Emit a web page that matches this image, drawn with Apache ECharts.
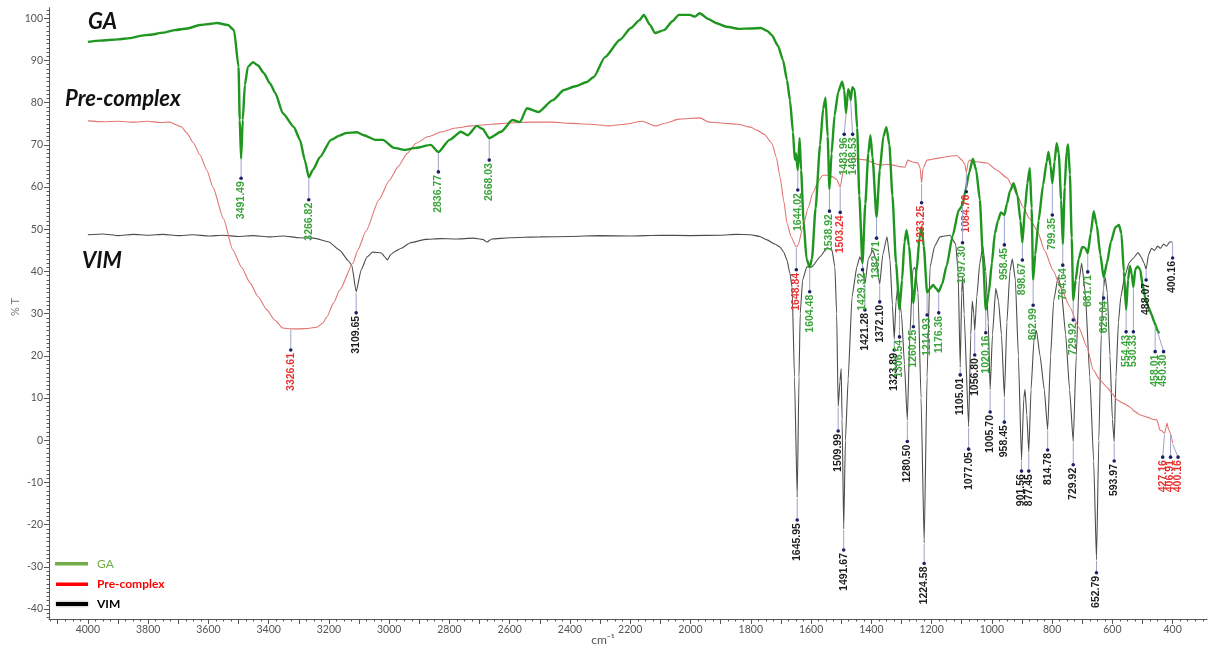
<!DOCTYPE html>
<html><head><meta charset="utf-8">
<script src="https://cdn.jsdelivr.net/npm/echarts@6/dist/echarts.min.js"></script>
<style>html,body{margin:0;padding:0;background:#fff}#c{width:1210px;height:650px}</style>
</head><body><div id="c"></div>
<script>
// ---------- data: [wavenumber cm-1, %T] ----------
const gaData = [
[4000,94.4],[3960,94.7],[3900,95.0],[3861,95.3],[3820,95.9],[3794,96.1],[3750,96.6],[3711,97.2],[3670,97.6],[3628,98.4],[3590,98.7],[3572,98.9],[3535,98.4],[3515,97.2],[3500,88.5],[3496,75.9],[3491.49,66.7],[3486,75.9],[3479,84.2],[3469,88.5],[3452,89.6],[3435,88.8],[3416,87.0],[3395,84.5],[3378,82.3],[3353,77.5],[3316,74.2],[3296,71.2],[3280,66.4],[3266.82,62.3],[3253,64.1],[3230,67.1],[3193,71.2],[3165,72.2],[3144,72.8],[3107,73.0],[3084,72.3],[3046,71.2],[3021,71.2],[2984,69.3],[2948,68.8],[2911,69.3],[2862,70.0],[2836.77,68.3],[2800,71.2],[2762,73.1],[2739,72.3],[2709,74.5],[2690,73.8],[2668.03,71.6],[2629,73.1],[2591,75.9],[2566,75.4],[2543,78.7],[2505,77.8],[2457,80.6],[2420,83.0],[2382,83.9],[2344,84.9],[2321,86.1],[2284,90.8],[2234,94.9],[2198,97.7],[2170,99.5],[2155,100.8],[2135,98.5],[2118,96.5],[2088,97.2],[2060,99.3],[2039,100.8],[2002,100.8],[1985,100.4],[1970,101.2],[1940,99.8],[1916,98.9],[1880,98.0],[1841,97.5],[1800,97.6],[1766,97.7],[1745,97.0],[1730,96.0],[1710,93.5],[1693,90.1],[1680,85.4],[1670,80.6],[1660,73.0],[1654,66.5],[1650,68.0],[1644.02,64.0],[1638,71.6],[1633,64.0],[1625,52.0],[1615,43.0],[1604.48,41.0],[1597,43.0],[1585,55.0],[1570,70.0],[1560,78.5],[1552,81.2],[1545,72.0],[1538.92,59.5],[1532,68.0],[1522,77.0],[1510,82.5],[1497,85.0],[1490,83.0],[1483.96,77.5],[1477,83.2],[1472,82.5],[1468.53,80.6],[1463,83.7],[1455,83.0],[1447,74.0],[1440,58.0],[1429.32,42.0],[1420,56.0],[1410,68.0],[1403,72.3],[1396,67.0],[1382.71,52.9],[1372,64.0],[1360,72.0],[1350,74.2],[1340,70.0],[1330,58.0],[1318,42.0],[1306.54,31.0],[1298,38.0],[1290,47.0],[1283,49.8],[1275,46.0],[1260.25,32.5],[1250,40.0],[1240,48.0],[1233,50.5],[1226,46.0],[1214.93,35.0],[1205,36.0],[1195,36.8],[1185,36.0],[1176.36,35.2],[1165,37.0],[1150,41.4],[1130,48.5],[1110,54.5],[1097.3,55.7],[1089,58.8],[1075,63.5],[1063,66.7],[1052,64.0],[1040,57.0],[1030,44.0],[1020.16,30.9],[1010,35.0],[1000,42.0],[990,49.0],[980,52.0],[970,54.0],[958.45,53.4],[950,56.0],[940,59.0],[928,60.9],[915,58.0],[905,52.0],[898.67,46.8],[890,55.0],[882,61.0],[874,64.5],[868,55.0],[862.99,38.0],[856,44.0],[845,52.0],[830,60.5],[818,66.0],[812,68.3],[805,65.0],[799.35,60.9],[792,66.0],[785,70.4],[778,68.0],[770,57.0],[764.64,46.5],[758,60.0],[752,68.5],[747,70.1],[741,63.0],[735,48.0],[729.92,33.2],[722,38.0],[712,43.0],[700,45.8],[690,45.6],[681.71,44.3],[672,49.0],[662,54.3],[652,51.0],[640,44.0],[629.04,38.6],[618,42.0],[605,47.0],[590,50.5],[578,51.0],[570,49.0],[562,40.0],[554.43,30.9],[548,38.0],[542,41.3],[536,39.5],[530.33,36.3],[524,40.5],[516,41.2],[508,40.5],[500,37.0],[490,33.5],[480,31.5],[470,29.8],[462,28.2],[458.01,27.5],[450.3,26.0],[445,25.3]
];
const preData = [
[4000,75.7],[3950,75.5],[3900,75.6],[3850,75.4],[3800,75.6],[3760,75.3],[3728,75.4],[3705,74.7],[3690,74.3],[3671,72.8],[3650,70.5],[3628,67.6],[3605,64.0],[3585,60.0],[3550,52.5],[3519,45.1],[3490,41.0],[3462,37.3],[3435,34.0],[3406,30.9],[3380,28.5],[3353,26.6],[3326.61,26.4],[3296,26.4],[3270,26.5],[3240,26.8],[3220,27.8],[3207,29.2],[3185,32.5],[3164,35.6],[3120,42.0],[3104,45.1],[3077,49.6],[3034,57.0],[3000,61.5],[2971,64.8],[2940,68.0],[2911,70.4],[2870,72.0],[2825,73.1],[2780,74.0],[2726,74.5],[2660,74.9],[2603,75.2],[2530,75.4],[2457,75.4],[2400,75.1],[2334,74.9],[2271,74.5],[2218,74.9],[2161,75.6],[2118,74.5],[2080,75.2],[2039,76.1],[1969,76.4],[1939,75.4],[1900,75.2],[1843,74.9],[1800,74.2],[1780,73.5],[1755,72.5],[1730,70.4],[1715,67.0],[1703,62.4],[1690,56.5],[1680,51.5],[1665,48.0],[1648.84,45.8],[1643,46.3],[1627,50.5],[1610,55.0],[1594,58.6],[1575,61.5],[1561,62.8],[1545,62.8],[1527,62.4],[1515,61.8],[1503.24,60.0],[1494,63.5],[1481,66.4],[1461,66.8],[1440,66.6],[1415,66.4],[1390,65.6],[1371,65.2],[1350,65.4],[1328,65.2],[1300,64.8],[1288,64.7],[1279,66.4],[1260,65.9],[1245,65.7],[1238,64.5],[1233.25,61.0],[1228,64.5],[1215,66.4],[1182,66.8],[1150,67.2],[1116,67.5],[1099,66.4],[1090,65.5],[1084.76,63.5],[1078,66.0],[1073,66.4],[1050,66.0],[1016,65.7],[983,64.0],[950,62.2],[930,60.0],[915,58.0],[897,55.3],[875,52.5],[850,49.8],[825,45.0],[797,40.3],[770,36.0],[741,31.6],[712,26.8],[684,22.1],[664,16.7],[641,14.3],[618,12.6],[600,11.0],[585,9.6],[565,8.8],[542,7.9],[525,6.8],[508,6.0],[485,5.5],[465,5.0],[452,4.8],[442,2.4],[435,2.2],[427.16,1.6],[422,3.0],[419,4.1],[413,2.5],[406.91,1.6],[403,0.5],[400.16,-0.6]
];
const vimData = [
[4000,48.7],[3950,48.9],[3900,48.5],[3850,48.8],[3800,48.6],[3750,48.8],[3700,48.5],[3650,48.7],[3600,48.4],[3550,48.6],[3500,48.3],[3450,48.5],[3400,48.2],[3350,48.4],[3300,48.0],[3250,47.9],[3200,47.0],[3164,45.0],[3135,42.5],[3124,41.4],[3109.65,35.2],[3093,40.4],[3074,43.4],[3055,44.6],[3026,44.4],[3015,43.5],[3006,42.7],[2995,44.0],[2980,44.8],[2960,45.5],[2930,46.8],[2880,47.6],[2830,47.8],[2780,47.7],[2720,47.9],[2690,47.6],[2675,47.0],[2660,47.7],[2600,48.0],[2500,48.2],[2400,48.3],[2300,48.5],[2200,48.4],[2100,48.6],[2000,48.5],[1900,48.6],[1850,48.8],[1800,48.7],[1770,48.3],[1746,47.5],[1720,46.5],[1703,45.8],[1690,44.5],[1680,42.7],[1670,39.5],[1663,36.3],[1655,15.0],[1645.95,-13.5],[1640,15.0],[1636,30.0],[1628,38.0],[1614,41.1],[1597,41.1],[1570,43.5],[1547,45.6],[1531,45.2],[1521,41.1],[1515,30.0],[1509.99,8.0],[1504,14.0],[1500,17.0],[1497,5.0],[1491.67,-21.0],[1486,0.0],[1477,14.3],[1464,34.0],[1448,41.1],[1438,43.5],[1431,42.3],[1421.28,37.0],[1410,43.0],[1395,45.0],[1385,43.0],[1372.1,37.0],[1362,44.0],[1348,48.2],[1338,42.7],[1330,32.0],[1323.89,24.0],[1318,33.0],[1312,36.3],[1300,30.0],[1290,18.0],[1280.5,4.8],[1272,25.0],[1262,40.5],[1255,41.0],[1245,35.0],[1235,10.0],[1224.58,-24.3],[1215,15.0],[1205,41.1],[1190,46.0],[1172,48.2],[1139,48.6],[1120,46.5],[1112,40.0],[1105.01,17.3],[1100,35.0],[1097,38.8],[1092,30.0],[1077.05,3.2],[1070,25.0],[1065,33.0],[1060,30.0],[1056.8,26.0],[1050,34.0],[1040,42.0],[1030,45.9],[1020,40.0],[1012,28.0],[1005.7,12.0],[998,25.0],[987,36.0],[978,33.0],[968,25.0],[958.45,10.3],[950,28.0],[940,40.0],[932,43.0],[922,38.0],[912,20.0],[901.56,-4.7],[894,10.0],[890,12.0],[884,6.0],[877.45,-2.8],[870,12.0],[860,24.0],[852,26.0],[840,20.0],[826,12.0],[814.78,2.5],[805,20.0],[795,33.0],[780,38.7],[770,36.0],[755,25.0],[742,12.0],[729.92,-0.4],[720,20.0],[710,38.0],[702,42.0],[690,35.0],[675,15.0],[662,-5.0],[652.79,-28.3],[645,0.0],[637,25.0],[630,36.0],[624,38.7],[617,35.0],[608,20.0],[600,5.0],[593.97,-0.4],[588,15.0],[580,28.0],[572,34.0],[560,38.5],[545,42.0],[530,43.2],[515,44.5],[505,43.5],[495,42.0],[488.07,40.5],[480,44.0],[470,45.5],[460,45.0],[450,46.0],[440,45.5],[430,46.5],[420,46.0],[410,47.0],[400.16,47.0]
];
// peak annotations: [wavenumber, %T of label dot, optional wavenumber where label sits]
const gaPeaks = [[3491.49,62.1],[3266.82,57.0],[2836.77,63.6],[2668.03,66.4],[1644.02,59.3],[1604.48,35.2],[1538.92,54.3],[1483.96,72.5,1490],[1468.53,72.5,1462],[1429.32,40.4],[1382.71,47.9],[1306.54,24.5],[1260.25,26.9],[1214.93,29.7],[1176.36,30.2],[1097.30,46.8],[1020.16,25.5],[958.45,46.3],[898.67,42.7],[862.99,32.0],[799.35,53.4],[764.64,41.5],[729.92,28.5],[681.71,39.9],[629.04,33.7],[554.43,25.7],[530.33,25.7],[458.01,21.0,458],[450.30,21.0,430]];
const prePeaks = [[3326.61,21.4],[1648.84,40.4],[1503.24,54.0],[1233.25,56.3],[1084.76,58.9],[427.16,-4.0,433],[406.91,-4.0,407],[400.16,-4.0,382]];
const vimPeaks = [[3109.65,30.2],[1645.95,-18.9],[1509.99,2.2],[1491.67,-26.0],[1421.28,30.9],[1372.10,32.8],[1323.89,21.4],[1280.50,-0.3],[1224.58,-29.2],[1105.01,15.5],[1077.05,-2.1],[1056.80,20.2],[1005.70,6.7],[958.45,4.3],[901.56,-7.3],[877.45,-7.3],[814.78,-2.3],[729.92,-5.8],[652.79,-31.4],[593.97,-4.9],[488.07,38.0],[400.16,43.2]];
const xLabels = [4000,3800,3600,3400,3200,3000,2800,2600,2400,2200,2000,1800,1600,1400,1200,1000,800,600,400];
const yLabels = [-40,-30,-20,-10,0,10,20,30,40,50,60,70,80,90,100];
const seriesNames = ['GA','Pre-complex','VIM'];

// ---------- helpers ----------
const X_MIN = 286, X_MAX = 4129, Y_MIN = -42.35, Y_MAX = 102.5;
function range(a,b,s){const r=[];for(let v=a;v<=b+1e-9;v+=s)r.push(Math.round(v*100)/100);return r;}
function interp(d, wn){
  for(let i=0;i<d.length-1;i++){
    const a=d[i], b=d[i+1];
    if(wn<=a[0] && wn>=b[0]){ const t=(a[0]-wn)/(a[0]-b[0]||1); return a[1]+(b[1]-a[1])*t; }
  }
  return d[d.length-1][1];
}
function annot(peaks, src, color){
  return {
    type:'custom', coordinateSystem:'cartesian2d', xAxisIndex:0, yAxisIndex:0, z:10, silent:true,
    encode:{x:0,y:1},
    data: peaks.map(p=>[p[0], p[1], interp(src,p[0]), p.length>2?p[2]:p[0]]),
    renderItem:(params, api)=>{
      const wn=api.value(0), dotT=api.value(1), cT=api.value(2), lw=api.value(3);
      const p0=api.coord([wn,cT]), p1=api.coord([lw,dotT]);
      return {type:'group', children:[
        {type:'line', shape:{x1:p0[0],y1:p0[1]+1,x2:p1[0],y2:p1[1]}, style:{stroke:'#9ea3c9',lineWidth:1}},
        {type:'circle', shape:{cx:p1[0],cy:p1[1],r:1.8}, style:{fill:'#1c2068'}},
        {type:'text', x:p1[0], y:p1[1]+3, rotation:Math.PI/2,
          style:{text:wn.toFixed(2), x:0, y:0, align:'right', verticalAlign:'middle', fill:color,
                 font:"bold 10.5px 'Liberation Sans', Arial, sans-serif"}}
      ]};
    }
  };
}
const plain = v => String(v);

const chart = echarts.init(document.getElementById('c'), null, {renderer:'canvas'});
const axisCol = '#555';
chart.setOption({
  animation:false,
  backgroundColor:'#fff',
  grid:{left:49, right:3, top:7.75, bottom:31, containLabel:false},
  xAxis:[
    {type:'value', inverse:true, min:X_MIN, max:X_MAX, position:'bottom',
     axisLine:{onZero:false, lineStyle:{color:axisCol, width:1}},
     axisTick:{customValues:range(400,4100,100), length:5, lineStyle:{color:axisCol}},
     axisLabel:{customValues:xLabels, formatter:plain, color:'#555', fontSize:10.5, fontFamily:'Lato', margin:5},
     splitLine:{show:false}},
    {type:'value', inverse:true, min:X_MIN, max:X_MAX, position:'bottom',
     axisLine:{show:false, onZero:false},
     axisTick:{customValues:range(300,4125,25), length:2.5, lineStyle:{color:axisCol}},
     axisLabel:{show:false}, splitLine:{show:false}}
  ],
  yAxis:[
    {type:'value', min:Y_MIN, max:Y_MAX, position:'left',
     axisLine:{show:true, onZero:false, lineStyle:{color:axisCol, width:1}},
     axisTick:{show:true, customValues:yLabels, length:5, lineStyle:{color:axisCol}},
     axisLabel:{customValues:yLabels, formatter:plain, color:'#555', fontSize:10.5, fontFamily:'Lato', margin:6},
     splitLine:{show:false}},
    {type:'value', min:Y_MIN, max:Y_MAX, position:'left',
     axisLine:{show:false, onZero:false},
     axisTick:{show:true, customValues:range(-42,102,1), length:2.5, lineStyle:{color:axisCol}},
     axisLabel:{show:false}, splitLine:{show:false}}
  ],
  series:[
    {name:seriesNames[2], type:'line', data:vimData, showSymbol:false, smooth:0.15, smoothMonotone:'x',
     lineStyle:{color:'#4d4d4d', width:1.1}, z:2},
    {name:seriesNames[1], type:'line', data:preData, showSymbol:false, smooth:0.2, smoothMonotone:'x',
     lineStyle:{color:'#e27474', width:1.1}, z:3},
    {name:seriesNames[0], type:'line', data:gaData, showSymbol:false, smooth:0.2, smoothMonotone:'x',
     lineStyle:{color:'#1f961f', width:2.4}, z:4},
    annot(vimPeaks, vimData, '#1e1e1e'),
    annot(prePeaks, preData, '#e53333'),
    annot(gaPeaks, gaData, '#3aa43a')
  ],
  graphic:[
    {type:'text', left:88, top:11, style:{text:'GA', font:"italic bold 22px Lato, sans-serif", fill:'#111'}},
    {type:'text', left:65, top:88, style:{text:'Pre-complex', font:"italic bold 22px Lato, sans-serif", fill:'#111'}},
    {type:'text', left:82, top:250, style:{text:'VIM', font:"italic bold 22px Lato, sans-serif", fill:'#111'}},
    {type:'text', x:15, y:307, rotation:Math.PI/2, style:{text:'% T', font:"11px Lato, sans-serif", fill:'#777', align:'center', verticalAlign:'middle'}},
    {type:'text', x:603, y:640, style:{text:'cm\u207B\u00B9', font:"12px Lato, sans-serif", fill:'#555', align:'center', verticalAlign:'middle'}},
    {type:'rect', shape:{x:55,y:562,width:33,height:3.5}, style:{fill:'#70ad47'}},
    {type:'rect', shape:{x:56,y:582.5,width:32,height:3.5}, style:{fill:'#ff0000'}},
    {type:'rect', shape:{x:56,y:602,width:32,height:4}, style:{fill:'#000', shadowBlur:3, shadowColor:'rgba(0,0,0,0.4)'}},
    {type:'text', x:97, y:564, style:{text:seriesNames[0], font:"12px Lato, sans-serif", fill:'#70ad47', verticalAlign:'middle'}},
    {type:'text', x:97, y:584, style:{text:seriesNames[1], font:"bold 12px Lato, sans-serif", fill:'#ff0000', verticalAlign:'middle'}},
    {type:'text', x:97, y:604, style:{text:seriesNames[2], font:"bold 12px Lato, sans-serif", fill:'#000', verticalAlign:'middle'}}
  ]
});
</script></body></html>
